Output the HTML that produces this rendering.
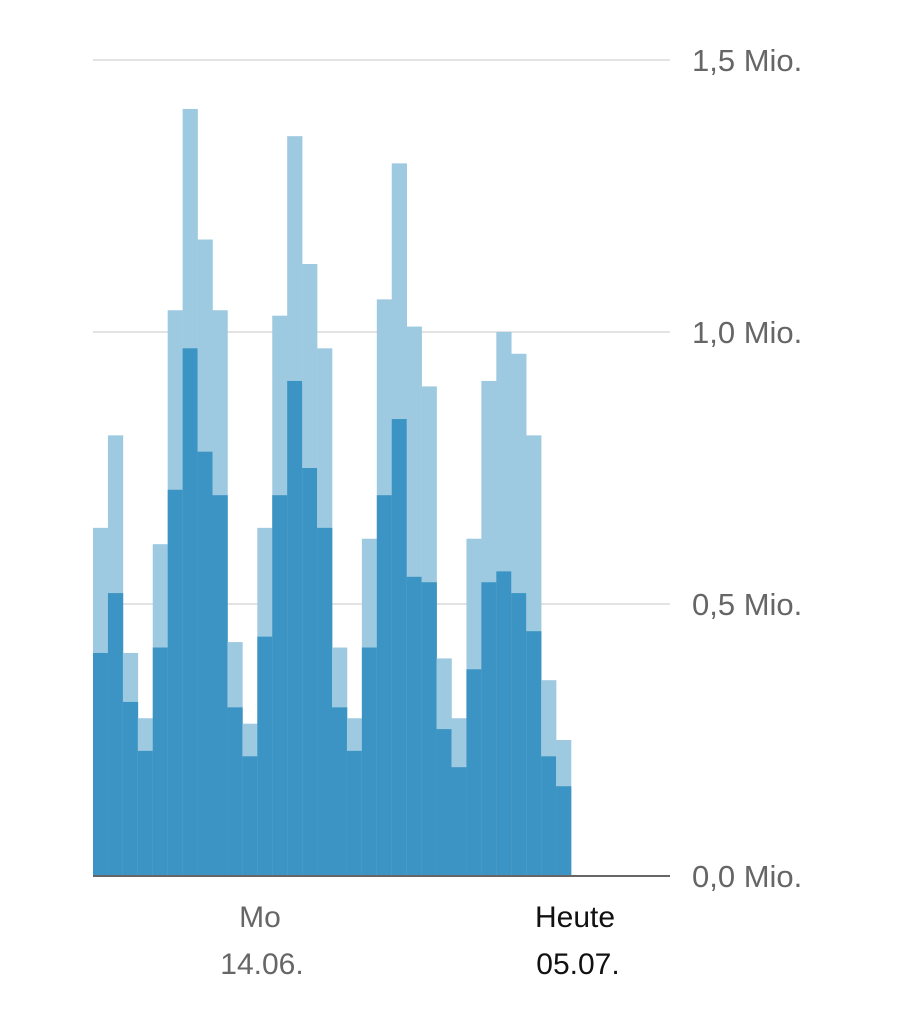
<!DOCTYPE html>
<html><head><meta charset="utf-8"><style>
body{margin:0;background:#fff;}
svg text{font-family:"Liberation Sans",sans-serif;}
</style></head><body>
<svg id="chart" width="900" height="1011" xmlns="http://www.w3.org/2000/svg">
<g id="grid"></g>
<g id="bars"></g>
<g id="yaxis"></g>
<line x1="93" x2="670" y1="876" y2="876" stroke="#666" stroke-width="2"/>
<text x="260" y="927" text-anchor="middle" font-size="30" fill="#666">Mo</text>
<text x="262" y="974" text-anchor="middle" font-size="30" fill="#666">14.06.</text>
<text x="575" y="927" text-anchor="middle" font-size="30" fill="#111">Heute</text>
<text x="578" y="974" text-anchor="middle" font-size="30" fill="#111">05.07.</text>
</svg>
<script>
const totalValues=[0.64,0.81,0.41,0.29,0.61,1.04,1.41,1.17,1.04,0.43,0.28,0.64,1.03,1.36,1.125,0.97,0.42,0.29,0.62,1.06,1.31,1.01,0.90,0.40,0.29,0.62,0.91,1.00,0.96,0.81,0.36,0.25];
const darkValues=[0.41,0.52,0.32,0.23,0.42,0.71,0.97,0.78,0.70,0.31,0.22,0.44,0.70,0.91,0.75,0.64,0.31,0.23,0.42,0.70,0.84,0.55,0.54,0.27,0.20,0.38,0.54,0.56,0.52,0.45,0.22,0.165];
const yTicks=[0,0.5,1.0,1.5];
const yTickLabels=["0,0 Mio.","0,5 Mio.","1,0 Mio.","1,5 Mio."];
const NS="http://www.w3.org/2000/svg";
const y0=876,pxPer=544,x0=93,bw=478/32;
const y=v=>y0-v*pxPer;
const x=i=>x0+i*bw;
const grid=document.getElementById('grid'),yax=document.getElementById('yaxis'),bars=document.getElementById('bars');
yTicks.forEach((t,i)=>{
 if(t>0){const l=document.createElementNS(NS,'line');
 
 
 l.setAttribute('x1',x0);l.setAttribute('x2',670);l.setAttribute('y1',y(t));l.setAttribute('y2',y(t));
 l.setAttribute('stroke','#e3e3e3');l.setAttribute('stroke-width','2');grid.appendChild(l);}
 const tx=document.createElementNS(NS,'text');
 
 
 tx.setAttribute('x',692);tx.setAttribute('y',y(t)+11);tx.setAttribute('font-size','31');tx.setAttribute('fill','#666');
 tx.textContent=yTickLabels[i];yax.appendChild(tx);
});
totalValues.forEach((v,i)=>{
 const r=document.createElementNS(NS,'rect');
 
 
 r.setAttribute('x',x(i));r.setAttribute('width',bw+0.3);r.setAttribute('y',y(v));r.setAttribute('height',y0-y(v));
 r.setAttribute('fill','#9ecae1');bars.appendChild(r);
 const d=darkValues[i];
 const r2=document.createElementNS(NS,'rect');
 
 
 r2.setAttribute('x',x(i));r2.setAttribute('width',bw+0.3);r2.setAttribute('y',y(d));r2.setAttribute('height',y0-y(d));
 r2.setAttribute('fill','#3b94c3');bars.appendChild(r2);
});
</script>
</body></html>
